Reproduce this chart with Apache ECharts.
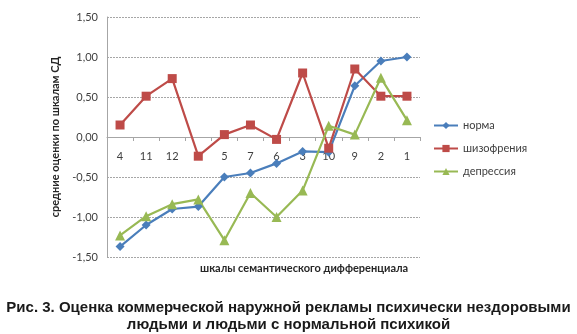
<!DOCTYPE html>
<html>
<head>
<meta charset="utf-8">
<script src="https://cdn.jsdelivr.net/npm/echarts@6/dist/echarts.min.js"></script>
<style>
  html, body { margin: 0; padding: 0; background: #fff; }
  #chart { width: 577px; height: 334px; }
</style>
</head>
<body>
<div id="chart"></div>
<script>
// Scale order along the horizontal axis
var scales = ['4', '11', '12', '8', '5', '7', '6', '3', '10', '9', '2', '1'];

// Mean ratings per scale for each group
var norma = [-1.37, -1.10, -0.90, -0.87, -0.50, -0.45, -0.33, -0.18, -0.19, 0.64, 0.95, 1.00];
var schizo = [0.15, 0.51, 0.73, -0.24, 0.03, 0.15, -0.03, 0.80, -0.14, 0.85, 0.51, 0.51];
var depress = [-1.23, -0.99, -0.84, -0.78, -1.29, -0.70, -1.00, -0.67, 0.14, 0.03, 0.74, 0.21];

var seriesNames = ['норма', 'шизофрения', 'депрессия'];
var yTicks = { min: -1.5, max: 1.5, step: 0.5 };

var chart = echarts.init(document.getElementById('chart'), null, { renderer: 'canvas' });

var labelFont = 'Lato, "Open Sans", sans-serif';
var captionFont = 'bold 15px "Liberation Sans", Arial, sans-serif';
var gridTop = 17, gridBottom = 77, chartH = 334;

// The category axis sits on the zero line of the value axis
var plotH = chartH - gridTop - gridBottom;
var zeroShift = plotH * (0 - yTicks.min) / (yTicks.max - yTicks.min);

function lineSeries(name, data, color, symbol, size) {
  return {
    name: name,
    type: 'line',
    data: data,
    symbol: symbol,
    symbolSize: size,
    showAllSymbol: true,
    lineStyle: { color: color, width: 2.2 },
    itemStyle: { color: color },
    emphasis: { disabled: true },
    animation: false
  };
}

chart.setOption({
  animation: false,
  grid: { left: 107, right: 157, top: gridTop, bottom: gridBottom },
  legend: {
    orient: 'vertical',
    left: 428,
    top: 115,
    itemWidth: 24,
    itemHeight: 9,
    itemGap: 12,
    textStyle: { fontFamily: labelFont, fontSize: 11, color: '#404040' },
    data: seriesNames
  },
  xAxis: {
    type: 'category',
    data: scales,
    boundaryGap: true,
    offset: -zeroShift,
    axisLine: { onZero: false, lineStyle: { color: '#a6a6a6', width: 1 } },
    axisTick: { show: true, length: 4, alignWithLabel: false, lineStyle: { color: '#a6a6a6' } },
    axisLabel: { margin: 14, fontFamily: labelFont, fontSize: 11, color: '#404040' },
    splitLine: { show: false }
  },
  yAxis: {
    type: 'value',
    min: yTicks.min,
    max: yTicks.max,
    interval: yTicks.step,
    name: 'средние оценки по шкалам СД',
    nameLocation: 'middle',
    nameRotate: 90,
    nameGap: 42,
    nameTextStyle: { fontFamily: labelFont, fontSize: 11, fontWeight: 'bold', color: '#262626' },
    axisLine: { show: true, lineStyle: { color: '#a6a6a6' } },
    axisTick: { show: false },
    axisLabel: {
      margin: 9,
      fontFamily: labelFont,
      fontSize: 11,
      color: '#404040',
      formatter: function (v) { return v.toFixed(2).replace('.', ','); }
    },
    splitLine: { show: true, lineStyle: { color: '#a6a6a6', type: [2, 1], width: 1 } }
  },
  graphic: [
    {
      type: 'text',
      left: 200,
      top: 263,
      style: {
        text: 'шкалы семантического дифференциала',
        font: 'bold 11px ' + labelFont,
        fill: '#262626'
      }
    },
    {
      type: 'text',
      x: 288.5,
      y: 308,
      style: {
        text: 'Рис. 3. Оценка коммерческой наружной рекламы психически нездоровыми',
        font: captionFont,
        fill: '#1a1a1a',
        align: 'center',
        verticalAlign: 'middle'
      }
    },
    {
      type: 'text',
      x: 288.5,
      y: 325,
      style: {
        text: 'людьми и людьми с нормальной психикой',
        font: captionFont,
        fill: '#1a1a1a',
        align: 'center',
        verticalAlign: 'middle'
      }
    }
  ],
  series: [
    lineSeries(seriesNames[0], norma, '#4a7ebb', 'diamond', 9),
    lineSeries(seriesNames[1], schizo, '#be4b48', 'rect', 9),
    lineSeries(seriesNames[2], depress, '#98b954', 'triangle', 10)
  ]
});
</script>
</body>
</html>
